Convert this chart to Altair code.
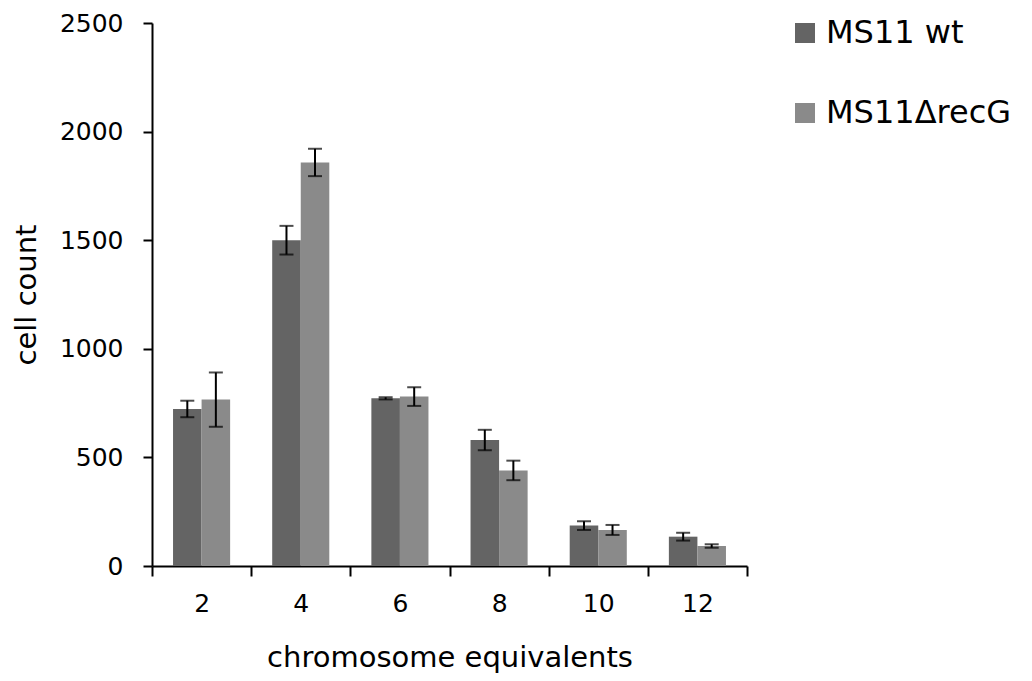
import altair as alt
import pandas as pd

categories = ["2", "4", "6", "8", "10", "12"]
strains = ["MS11 wt", "MS11ΔrecG"]
wt = [723, 1500, 772, 580, 186, 135]
wt_err = [38, 66, 5, 47, 20, 18]
recg = [766, 1858, 780, 440, 166, 92]
recg_err = [125, 63, 43, 45, 23, 8]
colors = ["#646464", "#8a8a8a"]

rows = []
for i, c in enumerate(categories):
    rows.append({"chrom": c, "strain": strains[0], "value": wt[i],
                 "lo": wt[i] - wt_err[i], "hi": wt[i] + wt_err[i]})
    rows.append({"chrom": c, "strain": strains[1], "value": recg[i],
                 "lo": recg[i] - recg_err[i], "hi": recg[i] + recg_err[i]})
df = pd.DataFrame(rows)

FONT = "DejaVu Sans"

x = alt.X("chrom:N", sort=categories,
          scale=alt.Scale(paddingInner=0, paddingOuter=0),
          axis=alt.Axis(title="chromosome equivalents", labelAngle=0,
                        tickBand="extent", tickSize=10, labelPadding=15,
                        titlePadding=27))
xo = alt.XOffset("strain:N", sort=strains,
                 scale=alt.Scale(paddingInner=0, paddingOuter=0.737))

yscale = alt.Scale(domain=[0, 2500], nice=False, zero=True)
yaxis = alt.Axis(title="cell count", values=[0, 500, 1000, 1500, 2000, 2500],
                 format="d", tickSize=9, labelPadding=20, titlePadding=18, grid=False)

base = alt.Chart(df)

bars = base.mark_bar(strokeWidth=0).encode(
    x=x, xOffset=xo,
    y=alt.Y("value:Q", scale=yscale, axis=yaxis),
    color=alt.Color("strain:N", sort=strains,
                    scale=alt.Scale(domain=strains, range=colors),
                    legend=alt.Legend(title=None, orient="none", legendX=637, legendY=-6,
                                      symbolType="square", symbolSize=400,
                                      symbolStrokeWidth=0, labelFontSize=32,
                                      labelFont=FONT, rowPadding=48, labelLimit=500,
                                      labelOffset=5, labelColor="black")),
)

rules = base.mark_rule(color="black", strokeWidth=2).encode(
    x=x, xOffset=xo, y=alt.Y("lo:Q", scale=yscale), y2="hi:Q")
cap_lo = base.mark_tick(color="black", size=14, thickness=2, orient="horizontal").encode(
    x=x, xOffset=xo, y=alt.Y("lo:Q", scale=yscale))
cap_hi = base.mark_tick(color="black", size=14, thickness=2, orient="horizontal").encode(
    x=x, xOffset=xo, y=alt.Y("hi:Q", scale=yscale))

chart = alt.layer(bars, rules, cap_lo, cap_hi).properties(
    width=595, height=543,
    autosize=alt.AutoSizeParams(type="none"),
    padding={"left": 152, "top": 23, "right": 285, "bottom": 115},
).configure_view(stroke=None).configure_axis(
    labelFont=FONT, titleFont=FONT, labelFontSize=25, titleFontSize=29,
    titleFontWeight="normal", labelColor="black", titleColor="black",
    domainColor="black", tickColor="black", domainWidth=2, tickWidth=2,
)

chart.save("out.html", embed_options={"renderer": "svg", "actions": False})
